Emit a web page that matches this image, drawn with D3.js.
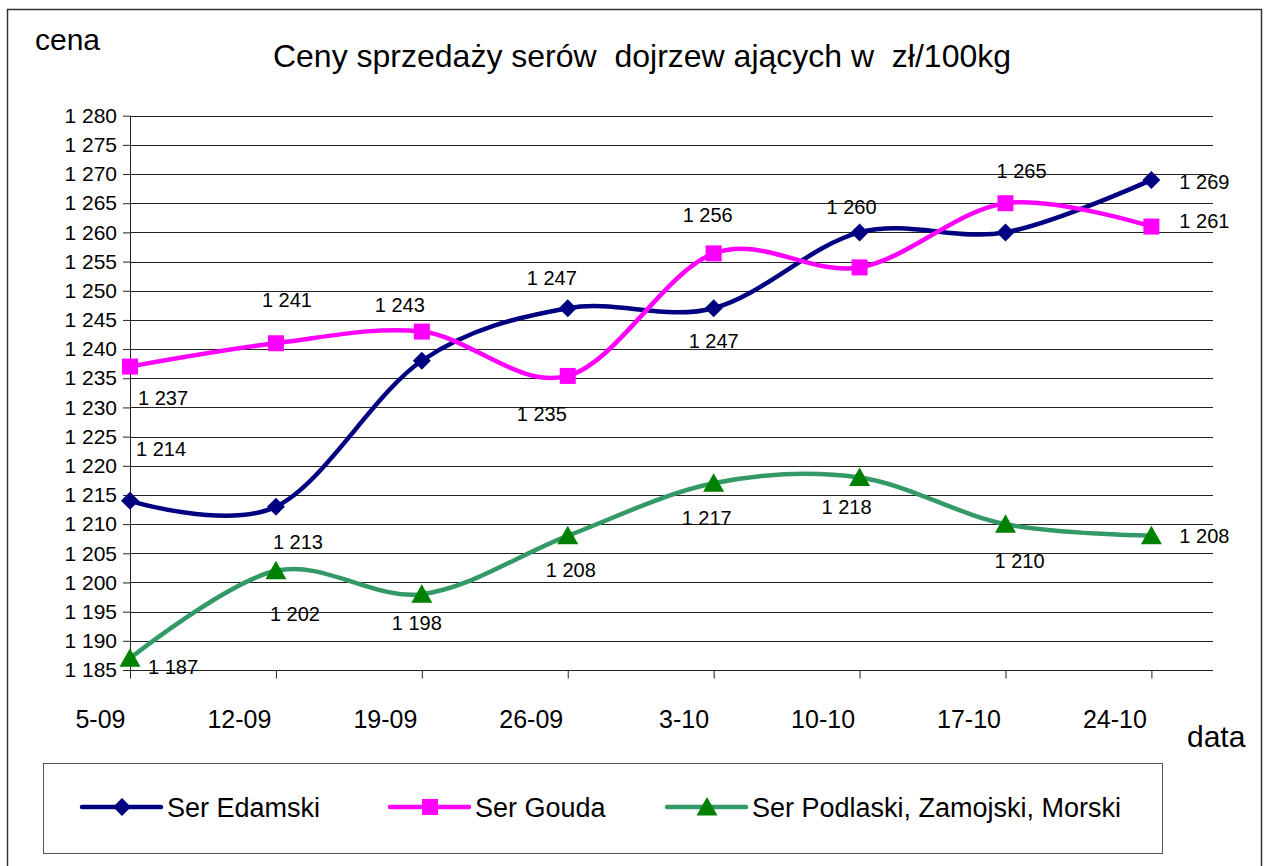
<!DOCTYPE html>
<html>
<head>
<meta charset="utf-8">
<script src="https://cdn.jsdelivr.net/npm/d3@7/dist/d3.min.js"></script>
<style>
  html, body { margin: 0; padding: 0; background: #fff; }
  svg { display: block; font-family: "Liberation Sans", Arial, sans-serif; }
  text { white-space: pre; }
</style>
</head>
<body>
<svg id="chart" width="1265" height="866"></svg>
<script>
// ---- data ----
const categories = ["5-09", "12-09", "19-09", "26-09", "3-10", "10-10", "17-10", "24-10"];
const edamski  = [1214, 1213, 1238, 1247, 1247, 1260, 1260, 1269];
const gouda    = [1237, 1241, 1243, 1235.4, 1256.4, 1254, 1265, 1261];
const podlaski = [1187, 1202, 1198, 1208, 1217, 1218, 1210, 1208];
const yTicks = [1185, 1190, 1195, 1200, 1205, 1210, 1215, 1220, 1225, 1230,
                1235, 1240, 1245, 1250, 1255, 1260, 1265, 1270, 1275, 1280];
const seriesNames = ["Ser Edamski", "Ser Gouda", "Ser Podlaski, Zamojski, Morski"];
const titleText = "Ceny sprzedaży serów  dojrzew ających w  zł/100kg";
const yTitle = "cena";
const xTitle = "data";

// label placement (offset of label centre from point; null = no label)
const labelOffsets = [
  [[31,-52],[22,35],null,[-16,-30],[0,33],[-8,-26],null,[53,2]],
  [[33,31],[11,-43],[-22,-27],[-26,38],[-6,-39],null,[16,-32],[53,-6]],
  [[43,8],[19,43],[-5,29],[3,34],[-7,35],[-13,29],[14,37],[53,0]]
];

const series = [
  { name: seriesNames[0], values: edamski,  line: "#000080", marker: "#000080", shape: "diamond" },
  { name: seriesNames[1], values: gouda,    line: "#FF00FF", marker: "#FF00FF", shape: "square" },
  { name: seriesNames[2], values: podlaski, line: "#339966", marker: "#008000", shape: "triangle" }
];

const svg = d3.select("#chart");
const plotLeft = 130, plotRight = 1213, plotTop = 115.7, plotBottom = 670;

const x = d3.scalePoint().domain(categories).range([plotLeft, 1151.4]);
const y = d3.scaleLinear().domain([1185, 1280]).range([plotBottom, plotTop]);

const pl = d3.formatLocale({ decimal: ",", thousands: " ", grouping: [3], currency: ["", " zł"] });
const fmt = pl.format(",.0f");

// outer border
svg.append("rect").attr("x", 7.5).attr("y", 9.5).attr("width", 1254).attr("height", 880)
  .attr("fill", "none").attr("stroke", "#333").attr("stroke-width", 1.5);

// gridlines
svg.append("g").selectAll("line").data(yTicks).join("line")
  .attr("x1", plotLeft).attr("x2", plotRight)
  .attr("y1", d => Math.round(y(d)) + 0.5).attr("y2", d => Math.round(y(d)) + 0.5)
  .attr("stroke", "#222").attr("stroke-width", 1);

// y axis
const yAxis = svg.append("g").attr("transform", `translate(${plotLeft},0)`)
  .call(d3.axisLeft(y).tickValues(yTicks).tickFormat(fmt).tickSize(7).tickPadding(6));
yAxis.select(".domain").remove();
yAxis.selectAll(".tick line").attr("stroke", "#222")
  .attr("transform", function() { return null; });
yAxis.selectAll(".tick text").attr("font-size", 21).attr("fill", "#000")
  .attr("font-family", "Liberation Sans, Arial, sans-serif");
svg.append("line").attr("x1", plotLeft + 0.5).attr("x2", plotLeft + 0.5)
  .attr("y1", plotTop).attr("y2", plotBottom + 8).attr("stroke", "#222");

// x axis
const xAxis = svg.append("g").attr("transform", `translate(0,${Math.round(plotBottom) + 0.5})`)
  .call(d3.axisBottom(x).tickSize(8).tickPadding(0));
xAxis.select(".domain").remove();
xAxis.selectAll(".tick line").attr("stroke", "#222");
xAxis.selectAll(".tick text").attr("font-size", 25).attr("fill", "#000")
  .attr("font-family", "Liberation Sans, Arial, sans-serif")
  .attr("text-anchor", "end").attr("x", -5).attr("y", 57).attr("dy", 0);
svg.append("line").attr("x1", plotLeft - 7).attr("x2", plotRight)
  .attr("y1", Math.round(plotBottom) + 0.5).attr("y2", Math.round(plotBottom) + 0.5)
  .attr("stroke", "#222");

// titles
svg.append("text").attr("x", 642).attr("y", 67).attr("text-anchor", "middle")
  .attr("font-size", 32).attr("fill", "#000").text(titleText);
svg.append("text").attr("x", 35).attr("y", 50).attr("font-size", 30).attr("fill", "#000").text(yTitle);
svg.append("text").attr("x", 1187).attr("y", 747).attr("font-size", 30).attr("fill", "#000").text(xTitle);

// marker shapes
function markerPath(shape) {
  if (shape === "diamond") return "M0,-9L9,0L0,9L-9,0Z";
  if (shape === "square") return "M-8,-8H8V8H-8Z";
  return "M0,-10L10.5,8.5L-10.5,8.5Z";
}

const line = d3.line()
  .x((d, i) => x(categories[i]))
  .y(d => y(d))
  .curve(d3.curveCardinal.tension(0));

series.forEach((s, si) => {
  const g = svg.append("g");
  g.append("path").datum(s.values).attr("d", line)
    .attr("fill", "none").attr("stroke", s.line).attr("stroke-width", 4.5)
    .attr("stroke-linejoin", "round").attr("stroke-linecap", "round");
  g.selectAll("path.mk").data(s.values).join("path").attr("class", "mk")
    .attr("d", markerPath(s.shape))
    .attr("transform", (d, i) => `translate(${x(categories[i])},${y(d)})`)
    .attr("fill", s.marker);
  g.selectAll("text.lbl").data(s.values.map((v, i) => ({ v, i, off: labelOffsets[si][i] })).filter(d => d.off))
    .join("text").attr("class", "lbl")
    .attr("x", d => x(categories[d.i]) + d.off[0])
    .attr("y", d => y(d.v) + d.off[1])
    .attr("dy", "0.36em")
    .attr("text-anchor", "middle").attr("font-size", 20).attr("fill", "#000")
    .text(d => fmt(d.v));
});

// legend
svg.append("rect").attr("x", 43.5).attr("y", 763.5).attr("width", 1119).attr("height", 90)
  .attr("fill", "none").attr("stroke", "#555").attr("stroke-width", 1);
const legendX = [82, 390, 667];
const legY = 807;
series.forEach((s, i) => {
  const g = svg.append("g").attr("transform", `translate(${legendX[i]},${legY})`);
  g.append("line").attr("x1", 0).attr("x2", 79).attr("y1", 0).attr("y2", 0)
    .attr("stroke", s.line).attr("stroke-width", 4.5).attr("stroke-linecap", "round");
  g.append("path").attr("d", markerPath(s.shape)).attr("transform", "translate(40,0)").attr("fill", s.marker);
  g.append("text").attr("x", 85).attr("y", 0).attr("dy", "0.36em")
    .attr("font-size", 27).attr("fill", "#000").text(s.name);
});
</script>
</body>
</html>
